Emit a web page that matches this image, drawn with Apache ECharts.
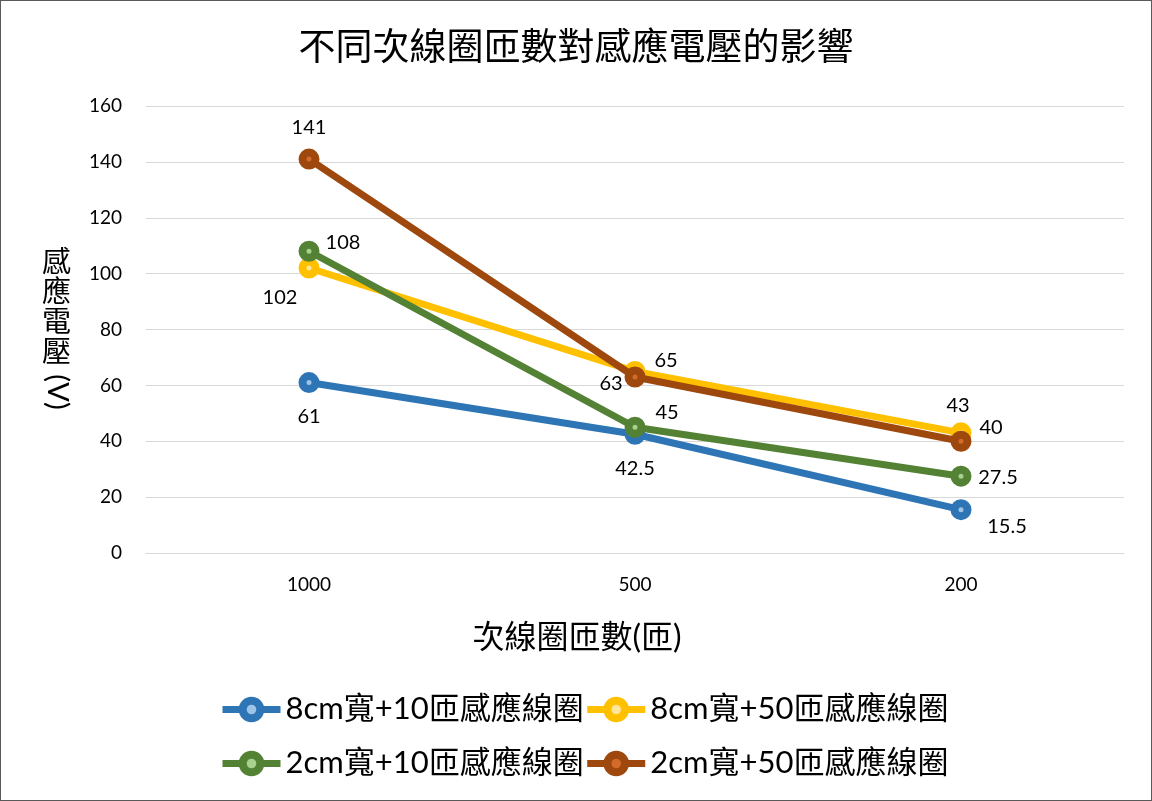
<!DOCTYPE html>
<html>
<head>
<meta charset="utf-8">
<script src="https://cdn.jsdelivr.net/npm/echarts@6/dist/echarts.min.js"></script>
<style>
  html, body { margin: 0; padding: 0; background: #fff; }
  #wrap { position: relative; width: 1152px; height: 801px; }
  #chart { position: absolute; left: 0; top: 0; width: 1152px; height: 801px; }
  #frame { position: absolute; left: 0; top: 0; width: 1152px; height: 801px;
           box-sizing: border-box; border: 1px solid #595959; pointer-events: none; }
</style>
</head>
<body>
<div id="wrap"><div id="chart"></div><div id="frame"></div></div>
<script>
// Secondary coil turns (x categories)
const turns = ['1000', '500', '200'];
// Series names
const seriesNames = ['8cm寬+10匝感應線圈', '8cm寬+50匝感應線圈', '2cm寬+10匝感應線圈', '2cm寬+50匝感應線圈'];
// Induced voltage (V) for each coil
const coil8cm10 = [61, 42.5, 15.5];
const coil8cm50 = [102, 65, 43];
const coil2cm10 = [108, 45, 27.5];
const coil2cm50 = [141, 63, 40];
// Y-axis ticks
const yMin = 0, yMax = 160, yStep = 20;

const colors = ['#2E75B6', '#FFC000', '#548235', '#9E480E'];
const centerColors = ['#9DC3E6', '#FFE699', '#A9D18E', '#D46A2A'];
// label offsets (px) from each point
const labelOffsets = [
  [[0, 34], [0, 34], [46, 17]],
  [[-29, 30], [31, -11], [-3, -27]],
  [[34, -9], [32, -15], [37, 1]],
  [[0, -32], [-24, 7], [30, -14]]
];

const FONT = 'Lato, "Noto Sans CJK TC", sans-serif';
const allValues = [coil8cm10, coil8cm50, coil2cm10, coil2cm50];

const series = allValues.map((vals, i) => ({
  name: seriesNames[i],
  type: 'line',
  data: vals.map((v, j) => ({
    value: v,
    label: { offset: labelOffsets[i][j] }
  })),
  symbol: 'circle',
  symbolSize: 13,
  lineStyle: { color: colors[i], width: 7 },
  itemStyle: { color: centerColors[i], borderColor: colors[i], borderWidth: 8 },
  label: {
    show: true,
    position: 'inside',
    color: '#000',
    fontFamily: FONT,
    fontSize: 20
  },
  emphasis: { disabled: true },
  animation: false,
  z: 2 + i
}));

const legendCommon = {
  left: 214,
  itemWidth: 58, itemHeight: 22, itemGap: 0,
  lineStyle: { width: 7 },
  itemStyle: { borderWidth: 8 },
  textStyle: { fontFamily: FONT, fontSize: 31, color: '#000' }
};

const chart = echarts.init(document.getElementById('chart'));
chart.setOption({
  backgroundColor: '#fff',
  animation: false,
  title: {
    text: '不同次線圈匝數對感應電壓的影響',
    left: 'center',
    top: 25,
    textStyle: { fontFamily: FONT, fontSize: 37, fontWeight: 'normal', color: '#000' }
  },
  legend: [
    Object.assign({ data: [seriesNames[0], seriesNames[1]], top: 689 }, legendCommon),
    Object.assign({ data: [seriesNames[2], seriesNames[3]], top: 743 }, legendCommon)
  ],
  grid: { left: 146, right: 28, top: 106, bottom: 248 },
  xAxis: {
    type: 'category',
    data: turns,
    boundaryGap: true,
    axisLine: { show: true, lineStyle: { color: '#d9d9d9', width: 1 } },
    axisTick: { show: false },
    axisLabel: { margin: 22, fontFamily: FONT, fontSize: 19, color: '#000' }
  },
  yAxis: {
    type: 'value',
    min: yMin, max: yMax, interval: yStep,
    axisLine: { show: false },
    axisTick: { show: false },
    splitLine: { lineStyle: { color: '#d9d9d9', width: 1 } },
    axisLabel: { margin: 24, fontFamily: FONT, fontSize: 19, color: '#000' }
  },
  graphic: [
    {
      type: 'text',
      x: 577, y: 638,
      style: {
        text: '次線圈匝數(匝)',
        fontFamily: FONT, fontSize: 32, fill: '#000',
        align: 'center', verticalAlign: 'middle'
      }
    },
    {
      type: 'text',
      left: 42, top: 248,
      style: {
        text: '感\n應\n電\n壓',
        fontFamily: FONT, fontSize: 29, lineHeight: 30, fill: '#000'
      }
    },
    {
      type: 'text',
      x: 57, y: 392,
      rotation: -Math.PI / 2,
      style: {
        text: '(V)',
        fontFamily: FONT, fontSize: 29, fill: '#000',
        align: 'center', verticalAlign: 'middle'
      }
    }
  ],
  series: series
});
</script>
</body>
</html>
